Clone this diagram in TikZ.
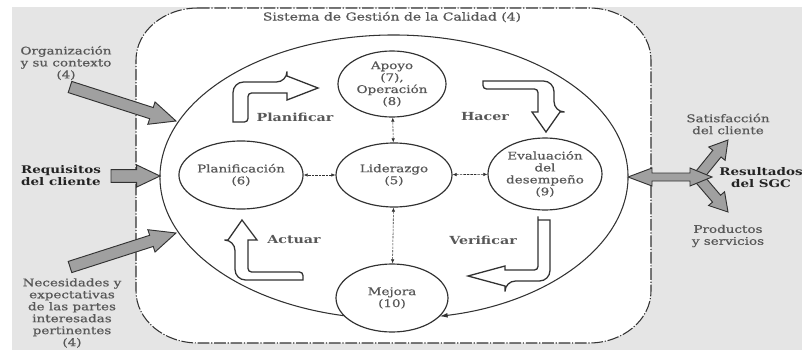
\documentclass[tikz,border=0pt]{standalone}
\usepackage{fontspec}
\setmainfont{DejaVu Serif}[FakeStretch=1.28]
\newfontfamily\mediumfont{DejaVu Serif}[FakeStretch=1.28, FakeBold=0.7]
\usepackage{xcolor}
\usepackage{tikz}
\usetikzlibrary{shapes.geometric,arrows.meta,calc}

\definecolor{bggray}{RGB}{229,229,229}
\definecolor{linecol}{RGB}{50,50,50}
\definecolor{txtgray}{RGB}{88,88,88}
\definecolor{txtdark}{RGB}{35,35,35}
\definecolor{arrowfill}{RGB}{160,160,160}

\newlength\px
\setlength\px{0.03cm}

% fat grey arrow: tail, tip, shaft half width, head half width, head length
\newcommand{\fatarrow}[5]{%
  \coordinate (fabase) at ($(#2)!#5!(#1)$);
  \draw[fat] ($(#1)!#3!90:(#2)$) -- ($(fabase)!#3!90:(#2)$) -- ($(fabase)!#4!90:(#2)$) -- (#2)
    -- ($(fabase)!#4!-90:(#2)$) -- ($(fabase)!#3!-90:(#2)$) -- ($(#1)!#3!-90:(#2)$) -- cycle;}

\begin{document}
\begin{tikzpicture}[x=0.03cm, y=0.03cm,
  stage/.style={ellipse, draw=linecol, line width=1pt, fill=white, inner sep=0pt,
    align=center, text=txtgray, font=\mediumfont\fontsize{9}{10.2}\selectfont,
    minimum width=112\px, minimum height=68\px},
  link/.style={linecol, line width=0.5pt, dash pattern=on 2pt off 1pt,
    {Latex[length=3.5pt,width=3pt]}-{Latex[length=3.5pt,width=3pt]}},
  bent/.style={draw=linecol, line width=1.1pt, fill=white},
  fat/.style={draw=linecol, line width=0.8pt, fill=arrowfill},
  lbl/.style={text=txtgray, align=center, font=\mediumfont\fontsize{9}{10.2}\selectfont},
  lblbold/.style={lbl, text=txtdark, font=\bfseries\fontsize{9}{10.2}\selectfont},
  phase/.style={text=txtgray, font=\bfseries\fontsize{9.5}{11}\selectfont}]
\useasboundingbox (0,0) rectangle (802,350);

% Background
\fill[bggray] (12,0) rectangle (802,343);

% Quality system box
\draw[linecol, line width=0.9pt, fill=white, dash pattern=on 10pt off 1.5pt on 1pt off 1.5pt]
  (198,342) -- (589,342) arc[start angle=90, end angle=0, x radius=62, y radius=52]
  -- (651,59) arc[start angle=0, end angle=-90, x radius=62, y radius=52]
  -- (198,7) arc[start angle=270, end angle=180, x radius=62, y radius=52]
  -- (136,290) arc[start angle=180, end angle=90, x radius=62, y radius=52] -- cycle;
\node[lbl, font=\mediumfont\fontsize{9.3}{11}\selectfont] (title) at (392,333) {Sistema de Gestión de la Calidad (4)};

% PDCA cycle
\coordinate (cycc) at (394,173);
\draw[linecol, line width=0.9pt, -{Latex[length=7pt,width=4pt]}]
  ($(cycc)+(260:234 and 142)$) arc[start angle=260, end angle=-78.8, x radius=234, y radius=142];

% Clauses
\node[stage, minimum width=108\px, minimum height=66\px] (apoyo) at (392,266) {Apoyo\\(7),\\Operación\\(8)};
\node[stage, minimum width=116\px, minimum height=64\px] (lider) at (394,175) {Liderazgo\\(5)};
\node[stage, minimum width=114\px] (plan) at (241,175) {Planificación\\(6)};
\node[stage, minimum width=114\px, minimum height=72\px] (eval) at (545,176) {Evaluación\\del\\desempeño\\(9)};
\node[stage] (mejora) at (392,52) {Mejora\\(10)};

\foreach \n in {apoyo, plan, eval, mejora}
  \draw[link] (lider) -- (\n);

% Bent cycle arrows
\draw[bent] (233,228) [rounded corners=9pt]-- (233,268) -- (287,268) [sharp corners]-- (287,274)
  -- (318,262) -- (287,250) -- (287,257) [rounded corners=3pt]-- (248,257) -- (248,228) [sharp corners]-- cycle;
\draw[bent] (483,269) [rounded corners=9pt]-- (554,269) -- (554,238) [sharp corners]-- (560,238)
  -- (546,218) -- (532,238) -- (538,238) [rounded corners=3pt]-- (538,261) -- (483,261) [sharp corners]-- cycle;
\draw[bent] (538,130) -- (550,130) [rounded corners=9pt]-- (550,69) -- (505,69) [sharp corners]-- (505,64)
  -- (468,74) -- (505,84) -- (505,80) [rounded corners=3pt]-- (538,80) -- (538,130) [sharp corners]-- cycle;
\draw[bent] (303,70) [rounded corners=9pt]-- (235,70) -- (235,110) [sharp corners]-- (228,110)
  -- (242,130) -- (257,110) -- (248,110) [rounded corners=3pt]-- (248,78) -- (303,78) [sharp corners]-- cycle;

\node[phase] (planificar) at (295,233) {Planificar};
\node[phase] (hacer) at (485,233) {Hacer};
\node[phase] (actuar) at (294,110) {Actuar};
\node[phase] (verificar) at (483,110) {Verificar};

% Inputs
\node[lbl] (orglbl) at (66,287) {Organización\\y su contexto\\(4)};
\node[lblbold] (reqlbl) at (61,174) {Requisitos\\del cliente};
\node[lbl] (neclbl) at (72,37) {Necesidades y\\expectativas\\de las partes\\interesadas\\pertinentes\\(4)};

\coordinate (orgtail) at (70,263);
\coordinate (orgtip) at (176,229);
\coordinate (reqtail) at (111,174);
\coordinate (reqtip) at (160,174);
\coordinate (nectail) at (70,83);
\coordinate (nectip) at (176,117);
\fatarrow{orgtail}{orgtip}{5pt}{10pt}{22pt}
\fatarrow{reqtail}{reqtip}{5.5pt}{9.5pt}{20pt}
\fatarrow{nectail}{nectip}{5pt}{10pt}{22pt}

% Outputs
\node[lbl] (satlbl) at (728,226) {Satisfacción\\del cliente};
\node[lbl] (prodlbl) at (728,114) {Productos\\y servicios};

\coordinate (fork) at (698,173);
\coordinate (sattip) at (728,210);
\coordinate (prodtip) at (728,138);
\fatarrow{fork}{sattip}{4.5pt}{9pt}{15pt}
\fatarrow{fork}{prodtip}{4.5pt}{9pt}{15pt}
\draw[fat] (628,173) -- (652,182) -- (652,177) -- (690,177) -- (690,182) -- (712,173)
  -- (690,164) -- (690,169) -- (652,169) -- (652,164) -- cycle;

\node[lblbold] (reslbl) at (761,172) {Resultados\\del SGC};
\end{tikzpicture}
\end{document}
